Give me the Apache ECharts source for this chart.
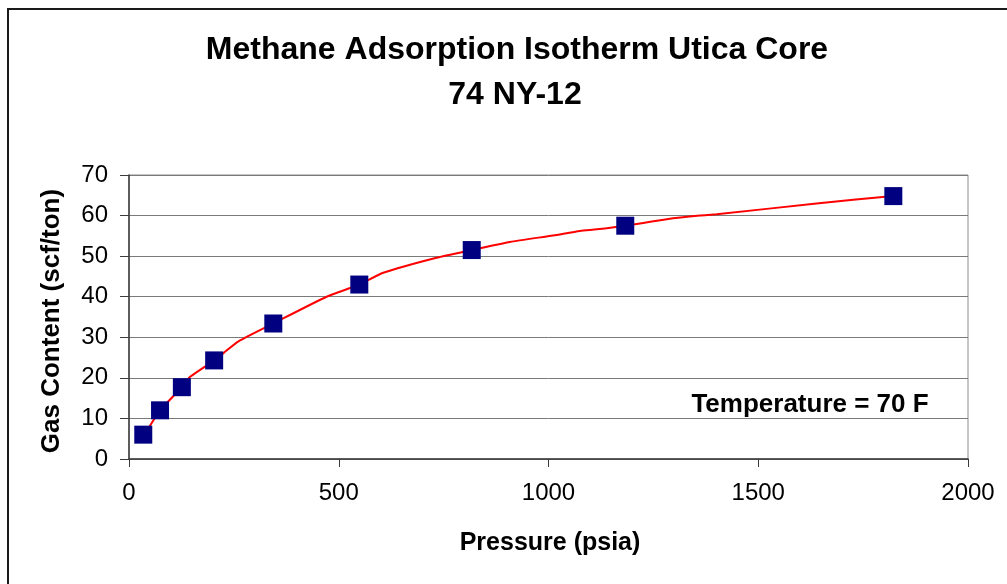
<!DOCTYPE html>
<html>
<head>
<meta charset="utf-8">
<script src="https://cdn.jsdelivr.net/npm/echarts@6/dist/echarts.min.js"></script>
<style>
  html, body { margin: 0; padding: 0; background: #fff; }
  #chart { width: 1007px; height: 584px; }
</style>
</head>
<body>
<div id="chart"></div>
<script>
  // measured isotherm points (psia, scf/ton)
  var pressure = [34, 74, 126, 203, 344, 549, 817, 1183, 1822];
  var gasContent = [6.0, 12.0, 17.7, 24.3, 33.4, 43.0, 51.5, 57.5, 64.8];

  // fitted curve
  var fitPressure = [34, 48, 74, 126, 145, 203, 225, 261, 344, 471, 549, 606, 733, 817, 908, 1011, 1075, 1115, 1183, 1282, 1361, 1401, 1639, 1822];
  var fitContent = [6.0, 7.9, 12.0, 17.7, 20.2, 24.3, 26.1, 29.0, 33.4, 40.0, 43.0, 45.9, 49.6, 51.5, 53.5, 55.1, 56.2, 56.6, 57.5, 59.1, 60.0, 60.3, 63.0, 64.8];

  var titleLines = ['Methane Adsorption Isotherm Utica Core', '74 NY-12'];
  var xName = 'Pressure (psia)';
  var yName = 'Gas Content (scf/ton)';
  var note = 'Temperature = 70 F';

  var font = '"Liberation Sans", Arial, sans-serif';

  var pts = pressure.map(function (p, i) { return [p, gasContent[i]]; });
  var fit = fitPressure.map(function (p, i) { return [p, fitContent[i]]; });

  var chart = echarts.init(document.getElementById('chart'));
  chart.setOption({
    animation: false,
    backgroundColor: '#fff',
    grid: {
      left: 129, right: 39, top: 175, bottom: 125,
      show: true,
      backgroundColor: '#fff',
      borderColor: '#8c8c8c',
      borderWidth: 1
    },
    xAxis: {
      type: 'value',
      min: 0, max: 2000, interval: 500,
      axisLine: { show: true, lineStyle: { color: '#3a3a3a', width: 1.5 } },
      axisTick: { show: true, length: 8, lineStyle: { color: '#3a3a3a' } },
      axisLabel: {
        margin: 22, color: '#000', fontSize: 24, fontFamily: font,
        formatter: function (v) { return String(v); }
      },
      splitLine: { show: false }
    },
    yAxis: {
      type: 'value',
      min: 0, max: 70, interval: 10,
      axisLine: { show: true, lineStyle: { color: '#3a3a3a', width: 1.5 } },
      axisTick: { show: true, length: 9, lineStyle: { color: '#3a3a3a' } },
      axisLabel: { margin: 21, color: '#000', fontSize: 24, fontFamily: font },
      splitLine: { show: true, lineStyle: { color: '#7a7a7a', width: 1 } }
    },
    series: [
      {
        name: 'fit',
        type: 'line',
        data: fit,
        showSymbol: false,
        smooth: 0.2,
        lineStyle: { color: '#ff0000', width: 2 },
        z: 2
      },
      {
        name: 'measured',
        type: 'scatter',
        data: pts,
        symbol: 'rect',
        symbolSize: 18,
        itemStyle: { color: '#000080', opacity: 1 },
        z: 3
      }
    ],
    graphic: [
      {
        type: 'rect', silent: true,
        shape: { x: 8, y: 9, width: 1100, height: 700 },
        style: { fill: 'none', stroke: '#1a1a1a', lineWidth: 2 }
      },
      {
        type: 'text', x: 517, y: 50,
        style: { text: titleLines[0], font: 'bold 32px ' + font, fill: '#000', textAlign: 'center', textVerticalAlign: 'middle' }
      },
      {
        type: 'text', x: 515, y: 95,
        style: { text: titleLines[1], font: 'bold 32px ' + font, fill: '#000', textAlign: 'center', textVerticalAlign: 'middle' }
      },
      {
        type: 'text', x: 550, y: 543,
        style: { text: xName, font: 'bold 25px ' + font, fill: '#000', textAlign: 'center', textVerticalAlign: 'middle' }
      },
      {
        type: 'text', x: 52, y: 321, rotation: Math.PI / 2,
        style: { text: yName, font: 'bold 26px ' + font, fill: '#000', textAlign: 'center', textVerticalAlign: 'middle' }
      },
      {
        type: 'text', x: 810, y: 405,
        style: { text: note, font: 'bold 26px ' + font, fill: '#000', textAlign: 'center', textVerticalAlign: 'middle' }
      }
    ]
  });
</script>
</body>
</html>
